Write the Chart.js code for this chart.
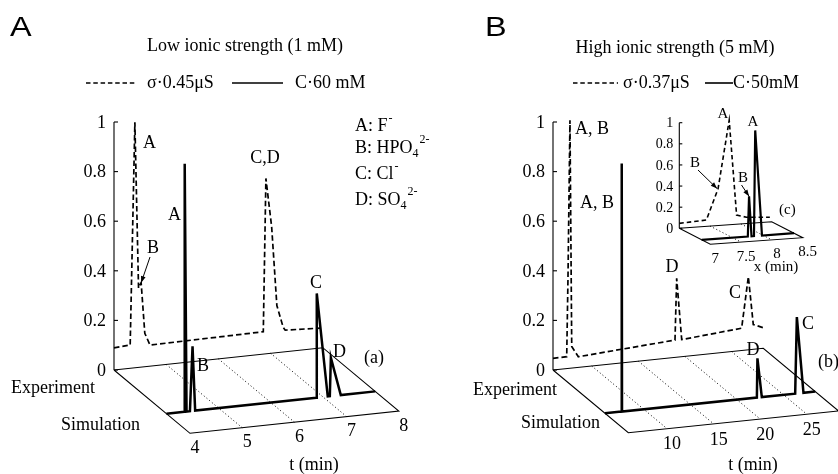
<!DOCTYPE html>
<html>
<head>
<meta charset="utf-8">
<script src="https://cdn.jsdelivr.net/npm/chart.js@4.4.4/dist/chart.umd.min.js"></script>
<style>
  html, body { margin: 0; padding: 0; background: #fff; }
  #wrap { width: 838px; height: 474px; }
</style>
</head>
<body>
<div id="wrap"><canvas id="chart" width="838" height="474"></canvas></div>
<script>
// ---- data (t in min, z normalised) ----
const zTicks = [0, 0.2, 0.4, 0.6, 0.8, 1];
const zTickLabels = ['0', '0.2', '0.4', '0.6', '0.8', '1'];
const tTicksA = [4, 5, 6, 7, 8];
const tTicksB = [10, 15, 20, 25];
const tTicksC = [7, 7.5, 8, 8.5];

// A: low ionic strength, experiment (conductivity) and simulation (concentration)
const expA_t = [4.0, 4.31, 4.40, 4.47, 4.52, 4.59, 4.69, 6.86, 6.91, 7.02, 7.12, 7.24, 7.28, 7.96];
const expA_z = [0.089, 0.094, 0.99, 0.32, 0.34, 0.135, 0.085, 0.09, 0.707, 0.51, 0.19, 0.10, 0.087, 0.08];
const simA_t = [4.0, 4.345, 4.35, 4.385, 4.45, 4.50, 4.55, 6.87, 6.88, 7.09, 7.13, 7.15, 7.34, 8.0];
const simA_z = [0, 0, 1.0, 0, 0, 0.26, 0, 0, 0.42, 0, 0, 0.155, 0, 0];

// B: high ionic strength
const expB_t = [5.84, 7.31, 7.45, 7.66, 7.85, 8.56, 18.93, 19.11, 19.65, 26.08, 26.80, 27.33, 28.4];
const expB_z = [0.047, 0.048, 0.37, 1.0, 0.087, 0.043, 0.07, 0.318, 0.069, 0.09, 0.295, 0.10, 0.083];
const simB_t = [5.84, 7.60, 7.63, 7.64, 7.65, 7.67, 22.14, 22.2, 22.67, 26.25, 26.43, 27.14, 28.4];
const simB_z = [0, 0, 0.35, 0.3, 1.0, 0, 0, 0.158, 0, 0, 0.308, 0, 0];

// inset (c): zoom on first peaks of B
const expC_t = [7.0, 7.44, 7.63, 7.81, 7.93, 8.09, 8.47];
const expC_z = [0.047, 0.06, 0.35, 0.99, 0.087, 0.059, 0.043];
const simC_t = [7.0, 7.75, 7.77, 7.81, 7.85, 7.87, 7.98, 8.5];
const simC_z = [0, 0, 0.38, 0, 0, 1.0, 0, 0];

// ---- projection of the three pseudo-3D boxes (layout) ----
const panelA = { ox: 114, oy: 370, t0: 4, t1: 8, tx: 52.2, ty: -5.575, dx: 76, dy: 63.3, zs: 248, sim: 0.69, tick: 4 };
const panelB = { ox: 553, oy: 370, t0: 5.84, t1: 28.4, tx: 9.32, ty: -0.962, dx: 75.3, dy: 62.7, zs: 248, sim: 0.69, tick: 4 };
const panelC = { ox: 679.3, oy: 228.3, t0: 7, t1: 8.5, tx: 61.6, ty: -4.4, dx: 31, dy: 16, zs: 105.6, sim: 0.72, tick: 3 };

function proj(p, t, d, z) {
    return { x: p.ox + (t - p.t0) * p.tx + d * p.dx, y: p.oy + (t - p.t0) * p.ty + d * p.dy - z * p.zs };
}

function line(points, width, dash) {
    return {
        data: points, showLine: true, borderColor: '#000', borderWidth: width,
        borderDash: dash, pointRadius: 0, tension: 0, fill: false
    };
}

function frame(p, ticks) {
    const ds = [];
    const box = [[p.t0, 0], [p.t1, 0], [p.t1, 1], [p.t0, 1], [p.t0, 0]];
    ds.push(line(box.map(([t, d]) => proj(p, t, d, 0)), 1.1, []));
    ticks.filter(t => t > p.t0 + 0.01 && t < p.t1 - 0.01).forEach(t => {
        ds.push(line([proj(p, t, 0, 0), proj(p, t, 1, 0)], 1, [1, 2.5]));
    });
    ds.push(line([proj(p, p.t0, 0, 0), proj(p, p.t0, 0, 1)], 1.1, []));
    zTicks.forEach(z => {
        const a = proj(p, p.t0, 0, z);
        ds.push(line([a, { x: a.x + p.tick, y: a.y }], 1.1, []));
    });
    return ds;
}

function trace(p, ts, zs, d) {
    return ts.map((t, i) => proj(p, t, d, zs[i]));
}

const datasets = [
    ...frame(panelA, tTicksA),
    ...frame(panelB, tTicksB),
    ...frame(panelC, tTicksC),
    line(trace(panelA, expA_t, expA_z, 0), 1.7, [5.5, 3]),
    line(trace(panelA, simA_t, simA_z, panelA.sim), 2.5, []),
    line(trace(panelB, expB_t, expB_z, 0), 1.7, [5.5, 3]),
    line(trace(panelB, simB_t, simB_z, panelB.sim), 2.5, []),
    line(trace(panelC, expC_t, expC_z, 0), 1.6, [4.5, 3]),
    line(trace(panelC, simC_t, simC_z, panelC.sim), 2.2, [])
];

const SERIF = '"Liberation Serif", "Times New Roman", serif';

// text, legends and arrows
const annotations = {
    id: 'annotations',
    afterDatasetsDraw(chart) {
        const ctx = chart.ctx;
        const sx = chart.scales.x, sy = chart.scales.y;
        const X = v => sx.getPixelForValue(v), Y = v => sy.getPixelForValue(v);
        ctx.save();
        ctx.fillStyle = '#000';
        ctx.strokeStyle = '#000';
        ctx.textBaseline = 'middle';

        const txt = (s, x, y, size, align = 'left', font = SERIF) => {
            ctx.font = size + 'px ' + font;
            ctx.textAlign = align;
            ctx.fillText(s, X(x), Y(y));
            return ctx.measureText(s).width;
        };
        const big = (s, x, y) => {
            ctx.save();
            ctx.font = '27px "Liberation Sans", Arial, sans-serif';
            ctx.textAlign = 'left';
            ctx.translate(X(x), Y(y));
            ctx.scale(1.2, 1);
            ctx.fillText(s, 0, 0);
            ctx.restore();
        };
        const seg = (x1, y1, x2, y2, w, dash) => {
            ctx.save();
            ctx.lineWidth = w;
            ctx.setLineDash(dash);
            ctx.beginPath();
            ctx.moveTo(X(x1), Y(y1));
            ctx.lineTo(X(x2), Y(y2));
            ctx.stroke();
            ctx.restore();
        };
        const arrow = (x1, y1, x2, y2) => {
            seg(x1, y1, x2, y2, 1, []);
            const a = Math.atan2(Y(y2) - Y(y1), X(x2) - X(x1));
            ctx.beginPath();
            ctx.moveTo(X(x2), Y(y2));
            ctx.lineTo(X(x2) - 7 * Math.cos(a - 0.35), Y(y2) - 7 * Math.sin(a - 0.35));
            ctx.lineTo(X(x2) - 7 * Math.cos(a + 0.35), Y(y2) - 7 * Math.sin(a + 0.35));
            ctx.closePath();
            ctx.fill();
        };

        // panel letters and titles
        big('A', 10, 29);
        big('B', 485, 29);
        txt('Low ionic strength (1 mM)', 245, 46, 18, 'center');
        txt('High ionic strength (5 mM)', 675, 48, 18, 'center');

        // legends
        seg(86, 83, 137, 83, 1.4, [4.5, 2.8]);
        txt('\u03c3\u00b70.45\u03bcS', 147, 83, 18);
        seg(232, 83, 283, 83, 1.6, []);
        txt('C\u00b760 mM', 295, 83, 18);
        seg(573, 83, 618, 83, 1.4, [4.5, 2.8]);
        txt('\u03c3\u00b70.37\u03bcS', 623, 83, 18);
        seg(705, 83, 733, 83, 1.6, []);
        txt('C\u00b750mM', 733, 83, 18);

        // ion key
        let w = txt('A: F', 355, 126, 18);
        txt('-', 355 + w + 1, 119, 12);
        w = txt('B: HPO', 355, 148, 18);
        txt('4', 355 + w, 154, 12);
        txt('2-', 355 + w + 7, 140, 12);
        w = txt('C: Cl', 355, 174, 18);
        txt('-', 355 + w + 1, 167, 12);
        w = txt('D: SO', 355, 200, 18);
        txt('4', 355 + w, 206, 12);
        txt('2-', 355 + w + 7, 192, 12);

        // z tick labels
        const zLabels = (p, gap, size) => zTicks.forEach((z, i) => {
            const a = proj(p, p.t0, 0, z);
            txt(zTickLabels[i], a.x - gap, a.y + 1, size, 'right');
        });
        zLabels(panelA, 8, 18);
        zLabels(panelB, 8, 18);
        zLabels(panelC, 6, 14);

        // t tick labels along the front edge
        const tLabels = (p, ticks, ox, oy, size) => ticks.forEach(t => {
            const a = proj(p, t, 1, 0);
            txt(String(t), a.x + ox, a.y + oy, size, 'center');
        });
        tLabels(panelA, tTicksA, 5, 15, 18);
        tLabels(panelB, tTicksB, 5, 16, 18);
        tLabels(panelC, tTicksC, 5, 14.5, 15);

        txt('t (min)', 314, 465, 18, 'center');
        txt('t (min)', 753, 465, 18, 'center');
        txt('x (min)', 776, 267, 15, 'center');

        txt('Experiment', 95, 388, 18, 'right');
        txt('Simulation', 140, 425, 18, 'right');
        txt('Experiment', 557, 390, 18, 'right');
        txt('Simulation', 600, 423, 18, 'right');

        // peak labels A
        txt('A', 143, 143, 18);
        txt('A', 168, 215, 18);
        txt('B', 147, 248, 18);
        txt('C,D', 265, 158, 18, 'center');
        txt('B', 197, 366, 18);
        txt('C', 316, 283, 18, 'center');
        txt('D', 333, 352, 18);
        txt('(a)', 364, 358, 18);
        const bA = proj(panelA, expA_t[4], 0, expA_z[4]);
        arrow(150, 257, bA.x, bA.y);

        // peak labels B
        txt('A, B', 575, 129, 18);
        txt('A, B', 580, 203, 18);
        txt('D', 672, 267, 18, 'center');
        txt('C', 735, 293, 18, 'center');
        txt('C', 802, 324, 18);
        txt('D', 753, 350, 18, 'center');
        txt('(b)', 818, 362, 18);

        // inset labels
        txt('A', 723, 114, 15, 'center');
        txt('A', 753, 122, 15, 'center');
        txt('B', 695, 163, 15, 'center');
        txt('B', 743, 178, 15, 'center');
        txt('(c)', 779, 210, 15);
        const bC = proj(panelC, expC_t[2], 0, expC_z[2]);
        arrow(698, 170, bC.x - 1, bC.y);
        const bS = proj(panelC, simC_t[2], panelC.sim, simC_z[2]);
        arrow(741.5, 185, bS.x, bS.y);

        ctx.restore();
    }
};

new Chart(document.getElementById('chart').getContext('2d'), {
    type: 'scatter',
    data: { datasets },
    options: {
        responsive: false,
        animation: false,
        devicePixelRatio: 1,
        layout: { padding: 0 },
        plugins: { legend: { display: false }, tooltip: { enabled: false } },
        scales: {
            x: { type: 'linear', min: 0, max: 838, display: false },
            y: { type: 'linear', min: 0, max: 474, reverse: true, display: false }
        }
    },
    plugins: [annotations]
});
</script>
</body>
</html>
